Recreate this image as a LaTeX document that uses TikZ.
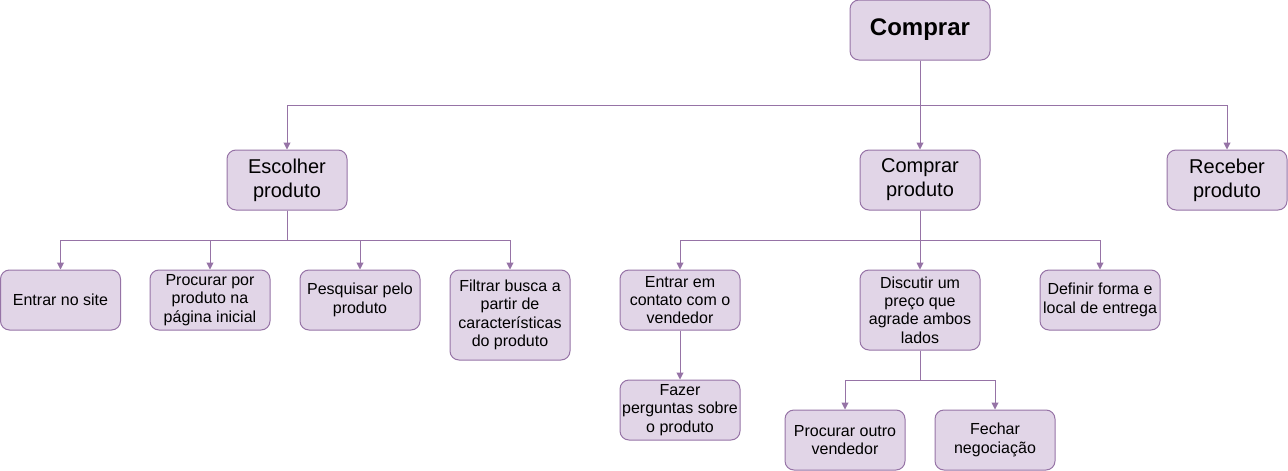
\documentclass[tikz,border=0pt]{standalone}
\usepackage{fontspec}
\setmainfont{Liberation Sans}
\usetikzlibrary{arrows.meta}
\definecolor{lilas}{HTML}{E1D5E7}
\definecolor{roxo}{HTML}{9673A6}
\tikzstyle{box}=[rectangle,draw=roxo,fill=lilas,text=black,rounded corners=9pt,line width=1pt,minimum width=120pt,minimum height=60pt,align=center,inner sep=0pt,font=\fontsize{16}{18.4}\selectfont]
\tikzstyle{meio}=[box,font=\fontsize{20}{24}\selectfont]
\tikzstyle{topo}=[box,minimum width=140pt,font=\fontsize{24}{28}\selectfont\bfseries]
\tikzstyle{child}=[-{Triangle[length=7pt,width=7pt]},draw=roxo,line width=1pt]

\begin{document}
\begin{tikzpicture}[x=1pt,y=-1pt]
  \useasboundingbox (0,0) rectangle (1288,471);

  \node[topo] (C) at (920,30) {Comprar};
  \node[meio] (E) at (287,180) {Escolher\\produto};
  \node[meio] (CP) at (920,180) {Comprar\\produto};
  \node[meio] (R) at (1227,180) {Receber\\produto};

  \node[box] (E1) at (60.5,300) {Entrar no site};
  \node[box] (E2) at (210,300) {Procurar por\\produto na\\página inicial};
  \node[box] (E3) at (360,300) {Pesquisar pelo\\produto};
  \node[box,minimum height=90pt] (E4) at (510,315) {Filtrar busca a\\partir de\\características\\do produto};

  \node[box] (CP1) at (680,300) {Entrar em\\contato com o\\vendedor};
  \node[box] (CP1a) at (680,410) {Fazer\\perguntas sobre\\o produto};
  \node[box,minimum height=80pt] (CP2) at (920,310) {Discutir um\\preço que\\agrade ambos\\lados};
  \node[box] (CP3) at (1100,300) {Definir forma e\\local de entrega};
  \node[box] (CP2a) at (845,440) {Procurar outro\\vendedor};
  \node[box] (CP2b) at (995,440) {Fechar\\negociação};

  \draw[child] (C.south) -- ++(0,45) -| (E.north);
  \draw[child] (C.south) -- (CP.north);
  \draw[child] (C.south) -- ++(0,45) -| (R.north);
  %
  \draw[child] (E.south) -- ++(0,30) -| (E1.north);
  \draw[child] (E.south) -- ++(0,30) -| (E2.north);
  \draw[child] (E.south) -- ++(0,30) -| (E3.north);
  \draw[child] (E.south) -- ++(0,30) -| (E4.north);
  %
  \draw[child] (CP.south) -- ++(0,30) -| (CP1.north);
  \draw[child] (CP.south) -- (CP2.north);
  \draw[child] (CP.south) -- ++(0,30) -| (CP3.north);
  \draw[child] (CP1.south) -- (CP1a.north);
  \draw[child] (CP2.south) -- ++(0,30) -| (CP2a.north);
  \draw[child] (CP2.south) -- ++(0,30) -| (CP2b.north);

\end{tikzpicture}
\end{document}
